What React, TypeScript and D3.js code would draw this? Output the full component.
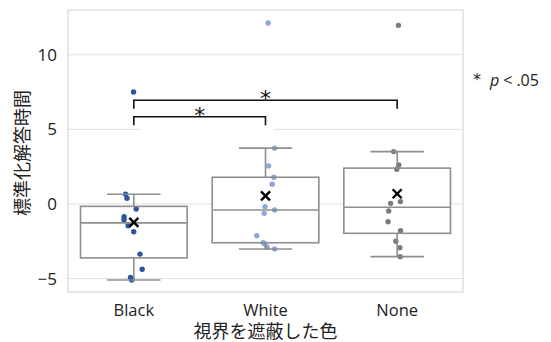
import React from "react";
import * as d3 from "d3";

const categories = ["Black", "White", "None"];
const blackValues = [7.5, 0.65, 0.38, -0.34, -0.85, -1.07, -1.46, -1.86, -3.36, -4.38, -4.92, -5.1];
const whiteValues = [12.13, 3.74, 2.55, 1.79, 1.32, -0.18, -0.4, -0.63, -2.13, -2.6, -2.68, -2.9, -3.02];
const noneValues = [11.97, 3.51, 2.62, 2.33, 0.16, 0.04, -0.47, -1.19, -1.79, -2.5, -2.93, -3.53];
const seriesValues = [blackValues, whiteValues, noneValues];
const pointColors = ["#2d54a1", "#8da7d8", "#7a7a7a"];
const yTicks = [-5, 0, 5, 10];
const yDomain = [-5.9, 13.0];
const comparisons = [
  { from: "Black", to: "None", level: 0 },
  { from: "Black", to: "White", level: 1 },
];
const yLabel = "標準化解答時間";
const xLabel = "視界を遮蔽した色";

const W = 551, H = 342;
const M = { left: 68, right: 463, top: 10, bottom: 292 };
const FONT = "'Noto Sans CJK JP', 'Noto Sans', sans-serif";
const LATIN = "'Open Sans', 'Noto Sans', sans-serif";

function stats(vals: number[]) {
  const s = [...vals].sort(d3.ascending);
  const q1 = d3.quantile(s, 0.25)!;
  const med = d3.quantile(s, 0.5)!;
  const q3 = d3.quantile(s, 0.75)!;
  const iqr = q3 - q1;
  const lo = s.find((v) => v >= q1 - 1.5 * iqr)!;
  const hi = [...s].reverse().find((v) => v <= q3 + 1.5 * iqr)!;
  return { q1, med, q3, lo, hi, mean: d3.mean(s)! };
}

export default function App() {
  const x = d3.scaleBand<string>().domain(categories).range([M.left, M.right]).padding(0);
  const y = d3.scaleLinear().domain(yDomain).range([M.bottom, M.top]);
  const bw = x.bandwidth();
  const boxW = bw * 0.81;
  const capW = boxW / 2;
  const rng = d3.randomUniform.source(d3.randomLcg(0.37))(-0.075 * bw, 0.075 * bw);

  const groups = categories.map((c, i) => {
    const cx = x(c)! + bw / 2;
    const st = stats(seriesValues[i]);
    const pts = seriesValues[i].map((v) => ({ v, dx: rng() }));
    return { c, cx, st, pts, color: pointColors[i] };
  });

  const boxStroke = "#8a8a8a";
  const lev = [y(6.95), y(5.85)];

  return (
    <svg width={W} height={H} style={{ position: "absolute", left: 0, top: 0, background: "#fff" }} fontFamily={FONT}>
      {/* grid */}
      {yTicks.map((t) => (
        <line key={t} x1={M.left} x2={M.right} y1={y(t)} y2={y(t)} stroke="#e0e0e0" strokeWidth={1} />
      ))}
      <rect x={M.left} y={M.top} width={M.right - M.left} height={M.bottom - M.top} fill="none" stroke="#d0d0d0" strokeWidth={1} />
      {/* tick labels */}
      {yTicks.map((t) => (
        <text key={t} x={57} y={y(t) + 6} textAnchor="end" fontSize={17} fill="#222" fontFamily={LATIN}>
          {t < 0 ? `−${Math.abs(t)}` : t}
        </text>
      ))}
      {categories.map((c) => (
        <text key={c} x={x(c)! + bw / 2} y={315.5} textAnchor="middle" fontSize={16.5} fill="#222" fontFamily={LATIN}>
          {c}
        </text>
      ))}
      <text x={(M.left + M.right) / 2} y={338} textAnchor="middle" fontSize={18} fill="#222">
        {xLabel}
      </text>
      <text transform={`translate(29,${(M.top + M.bottom) / 2 + 2}) rotate(-90)`} textAnchor="middle" fontSize={18} fill="#222">
        {yLabel}
      </text>
      {/* boxes fill */}
      {groups.map((g) => (
        <rect key={g.c + "f"} x={g.cx - boxW / 2} y={y(g.st.q3)} width={boxW} height={y(g.st.q1) - y(g.st.q3)} fill="#fff" />
      ))}
      {/* points */}
      {groups.map((g) =>
        g.pts.map((p, j) => (
          <circle key={g.c + j} cx={g.cx + p.dx} cy={y(p.v)} r={2.7} fill={g.color} />
        ))
      )}
      {/* box strokes */}
      {groups.map((g) => (
        <g key={g.c + "b"} stroke={boxStroke} strokeWidth={1.6} fill="none" opacity={0.95}>
          <rect x={g.cx - boxW / 2} y={y(g.st.q3)} width={boxW} height={y(g.st.q1) - y(g.st.q3)} />
          <line x1={g.cx - boxW / 2} x2={g.cx + boxW / 2} y1={y(g.st.med)} y2={y(g.st.med)} />
          <line x1={g.cx} x2={g.cx} y1={y(g.st.q3)} y2={y(g.st.hi)} />
          <line x1={g.cx} x2={g.cx} y1={y(g.st.q1)} y2={y(g.st.lo)} />
          <line x1={g.cx - capW / 2} x2={g.cx + capW / 2} y1={y(g.st.hi)} y2={y(g.st.hi)} />
          <line x1={g.cx - capW / 2} x2={g.cx + capW / 2} y1={y(g.st.lo)} y2={y(g.st.lo)} />
        </g>
      ))}
      {/* means */}
      {groups.map((g) => {
        const my = y(g.st.mean);
        const s = 4.5;
        return (
          <g key={g.c + "m"} stroke="#000" strokeWidth={2.4}>
            <line x1={g.cx - s} x2={g.cx + s} y1={my - s} y2={my + s} />
            <line x1={g.cx - s} x2={g.cx + s} y1={my + s} y2={my - s} />
          </g>
        );
      })}
      {/* significance brackets */}
      {comparisons.map((cmp) => {
        const x1 = x(cmp.from)! + bw / 2;
        const x2 = x(cmp.to)! + bw / 2;
        const ly = lev[cmp.level];
        return (
          <g key={cmp.from + cmp.to}>
            {cmp.level === 1 && <rect x={x1 + 6} y={ly - 12} width={x2 - x1 + 3} height={y(5) - ly + 14} fill="#fff" />}
            <path d={`M${x1},${ly + 8.5}V${ly}H${x2}V${ly + 8.5}`} fill="none" stroke="#111" strokeWidth={1.6} />
            <text x={(x1 + x2) / 2} y={ly + 6} textAnchor="middle" fontSize={22} fill="#111" fontFamily="'DejaVu Sans', sans-serif">*</text>
          </g>
        );
      })}
      {/* note */}
      <text x={473} y={86} fontSize={16} fill="#222" fontFamily={LATIN}>
        <tspan fontFamily="'DejaVu Sans', sans-serif" fontSize={16} dy={-1}>*</tspan>
        <tspan dx={9} dy={1} fontStyle="italic">p</tspan>
        <tspan dx={4}>&lt;</tspan>
        <tspan dx={4}>.05</tspan>
      </text>
    </svg>
  );
}
